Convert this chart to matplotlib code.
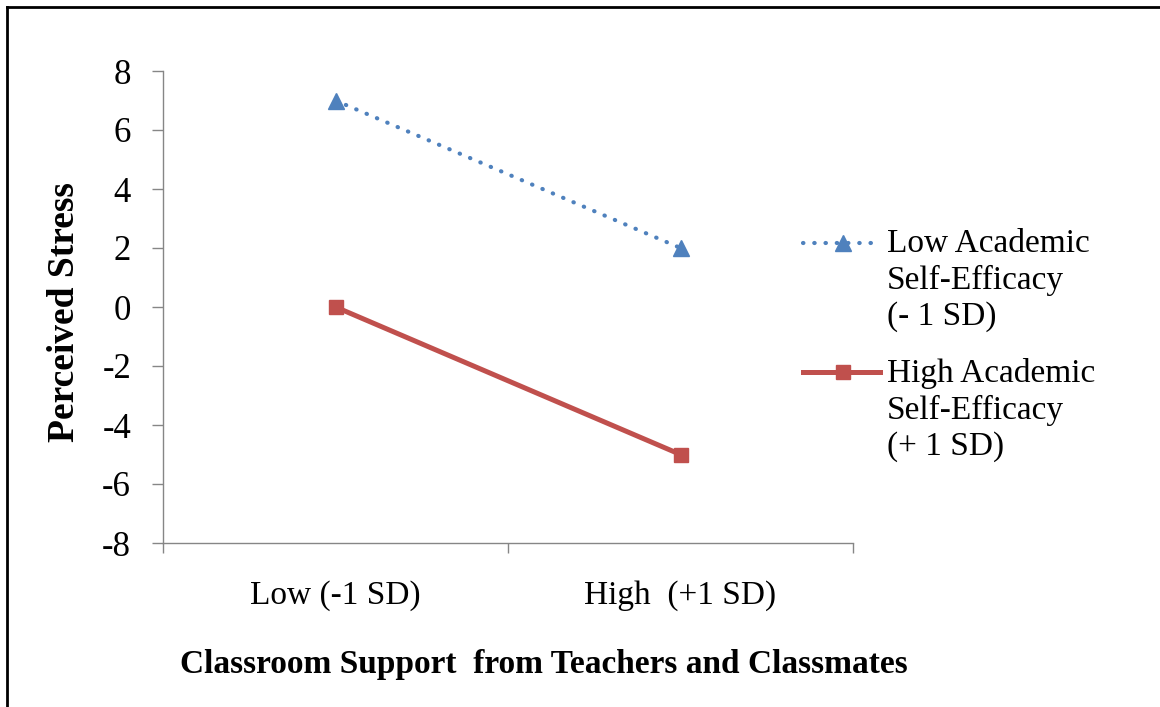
import matplotlib
matplotlib.use("Agg")
import matplotlib.pyplot as plt
from matplotlib.lines import Line2D

# dados
categorias = ["Low (-1 SD)", "High  (+1 SD)"]
baixa_autoeficacia = [7, 2]
alta_autoeficacia = [0, -5]
legenda = ["Low Academic\nSelf-Efficacy\n(- 1 SD)",
           "High Academic\nSelf-Efficacy\n(+ 1 SD)"]
y_ticks = [-8, -6, -4, -2, 0, 2, 4, 6, 8]

AZUL = "#4F81BD"
VERMELHO = "#C0504D"
CINZA = "#868686"

plt.rcParams["font.family"] = ["Liberation Serif", "DejaVu Serif"]

fig = plt.figure(figsize=(11.6, 7.07), dpi=100)
W, H = 1160, 707
ax = fig.add_axes([163 / W, 1 - 543 / H, 690 / W, 472 / H])

pos = [0.5, 1.5]
ax.plot(pos, baixa_autoeficacia, color=AZUL, lw=3, linestyle=(0, (0.1, 2.6)),
        dash_capstyle="round", marker="^", markersize=11, clip_on=False)
ax.plot(pos, alta_autoeficacia, color=VERMELHO, lw=3.6, marker="s",
        markersize=10, clip_on=False)

ax.set_xlim(0, 2)
ax.set_ylim(-8, 8)
ax.set_yticks(y_ticks)
ax.set_yticklabels([str(v) for v in y_ticks])
ax.set_xticks([0, 1, 2])
ax.set_xticklabels([])
ax.set_xticks(pos, minor=True)
ax.set_xticklabels(categorias, minor=True)

ax.tick_params(axis="y", which="major", length=8, width=1, color=CINZA,
               labelsize=25, pad=15)
ax.tick_params(axis="x", which="major", length=7, width=1, color=CINZA)
ax.tick_params(axis="x", which="minor", length=0, labelsize=24, pad=27)

for lado in ["top", "right"]:
    ax.spines[lado].set_visible(False)
for lado in ["left", "bottom"]:
    ax.spines[lado].set_color(CINZA)
    ax.spines[lado].set_linewidth(1)

ax.set_ylabel("Perceived Stress", fontsize=27, fontweight="bold", va="center")
ax.yaxis.set_label_coords((64 - 163) / 690, (543 - 312) / 472)
ax.set_xlabel("Classroom Support  from Teachers and Classmates", fontsize=24,
              fontweight="bold", va="center")
ax.xaxis.set_label_coords((544 - 163) / 690, (543 - 664) / 472)

# legenda desenhada à mão (marcador alinhado à primeira linha)
estilos = [
    dict(color=AZUL, lw=3, linestyle=(0, (0.1, 2.6)), dash_capstyle="round",
         marker="^", markersize=11),
    dict(color=VERMELHO, lw=3.6, marker="s", markersize=10),
]
y_legenda = [243, 372]
for rotulo, estilo, yl in zip(legenda, estilos, y_legenda):
    yf = 1 - yl / H
    fig.add_artist(Line2D([803 / W, 843 / W, 880 / W], [yf, yf, yf],
                          markevery=[1], transform=fig.transFigure, **estilo))
    fig.text(887 / W, yf + 14 / H, rotulo, fontsize=24, va="top", ha="left",
             linespacing=1.23)

# moldura (apenas topo e esquerda visíveis)
fig.add_artist(Line2D([7 / W, 7 / W], [0, 1 - 7 / H], color="black", lw=2,
                      transform=fig.transFigure))
fig.add_artist(Line2D([7 / W, 1], [1 - 7 / H, 1 - 7 / H], color="black", lw=2,
                      transform=fig.transFigure))

fig.savefig("out.png", dpi=100)
